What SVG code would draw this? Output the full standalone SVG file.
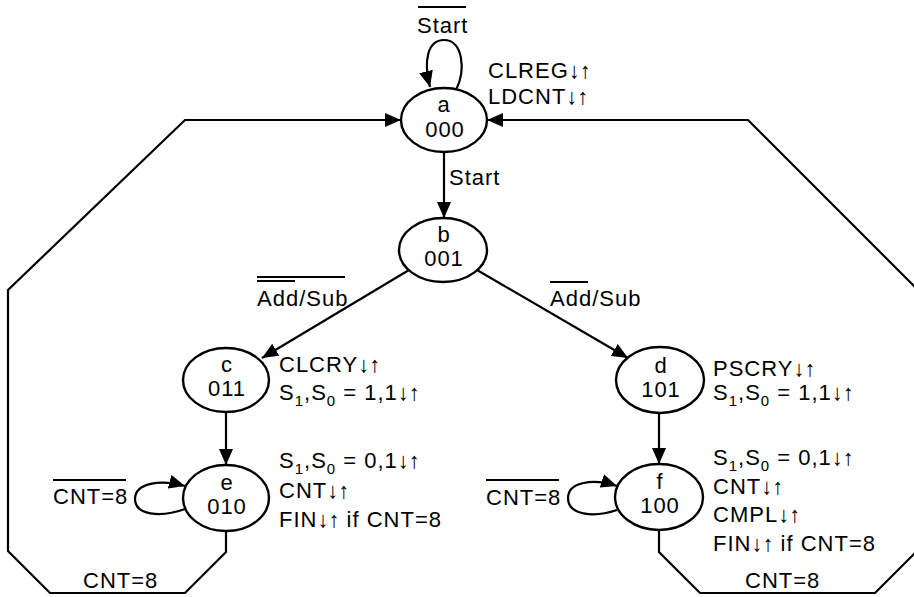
<svg xmlns="http://www.w3.org/2000/svg" width="914" height="597" viewBox="0 0 914 597">
<defs>
<style>
.t{font-family:"Liberation Sans",Arial,Helvetica,sans-serif;font-size:22px;fill:#000;letter-spacing:1px}
.n{text-anchor:middle}
.sub{font-size:15px}
.ar{font-weight:bold;letter-spacing:0}
.st{fill:#fff;stroke:#000;stroke-width:2.4}
.ln{fill:none;stroke:#000;stroke-width:2.2}
.ov{stroke:#000;stroke-width:1.8}
</style>
<marker id="ah" markerUnits="userSpaceOnUse" markerWidth="17" markerHeight="14" refX="16" refY="7" orient="auto">
<path d="M0,0 L16,7 L0,14 z" fill="#000"/>
</marker>
</defs>
<rect width="914" height="597" fill="#fff"/>

<g id="connectors">
<path class="ln" d="M456 90 C466 70 463 40 444 40 C428 40 423 60 430 87" marker-end="url(#ah)"/>
<path class="ln" d="M444 152 L444 218" marker-end="url(#ah)"/>
<path class="ln" d="M409 270 L262 358" marker-end="url(#ah)"/>
<path class="ln" d="M477 270 L628 358" marker-end="url(#ah)"/>
<path class="ln" d="M226 412 L226 465" marker-end="url(#ah)"/>
<path class="ln" d="M659 413 L659 464" marker-end="url(#ah)"/>
<path class="ln" d="M185 509 C160 518 135 515 135 499 C135 483 160 479 185 486" marker-end="url(#ah)"/>
<path class="ln" d="M617 510 C593 518 568 515 568 498 C568 482 593 478 617 486" marker-end="url(#ah)"/>
<path class="ln" d="M226 531 L226 552 L185 593 L50 593 L8 551 L8 290 L185 120 L401 120" marker-end="url(#ah)"/>
<path class="ln" d="M659 530 L659 552 L700 593 L875 593 L925 543 L925 297 L748 120 L487 120" marker-end="url(#ah)"/>
</g>

<g id="node-a">
<ellipse class="st" cx="444" cy="120" rx="43" ry="32"/>
<text class="t n" x="444" y="112">a</text>
<text class="t n" x="445" y="137">000</text>
</g>
<g id="node-b">
<ellipse class="st" cx="443" cy="250" rx="44" ry="32"/>
<text class="t n" x="444" y="242">b</text>
<text class="t n" x="444" y="266">001</text>
</g>
<g id="node-c">
<ellipse class="st" cx="226" cy="380" rx="43" ry="32"/>
<text class="t n" x="227" y="372">c</text>
<text class="t n" x="227" y="396">011</text>
</g>
<g id="node-d">
<ellipse class="st" cx="660" cy="380" rx="44" ry="33"/>
<text class="t n" x="661" y="373">d</text>
<text class="t n" x="661" y="397">101</text>
</g>
<g id="node-e">
<ellipse class="st" cx="226" cy="498" rx="43" ry="33"/>
<text class="t n" x="227" y="490">e</text>
<text class="t n" x="227" y="514">010</text>
</g>
<g id="node-f">
<ellipse class="st" cx="659" cy="497" rx="44" ry="33"/>
<text class="t n" x="660" y="489">f</text>
<text class="t n" x="660" y="513">100</text>
</g>

<g id="labels">
<line class="ov" x1="418" y1="7" x2="466" y2="7"/>
<text class="t" x="417" y="33">Start</text>
<text class="t" x="488" y="78">CLREG<tspan class="ar">↓↑</tspan></text>
<text class="t" x="488" y="104">LDCNT<tspan class="ar">↓↑</tspan></text>
<text class="t" x="449" y="185">Start</text>

<line class="ov" x1="257" y1="277" x2="345" y2="277"/>
<line class="ov" x1="257" y1="281" x2="295" y2="281"/>
<text class="t" x="257" y="306">Add/Sub</text>
<line class="ov" x1="550" y1="282" x2="588" y2="282"/>
<text class="t" x="550" y="306">Add/Sub</text>

<text class="t" x="279" y="372">CLCRY<tspan class="ar">↓↑</tspan></text>
<text class="t" x="279" y="400">S<tspan class="sub" dy="6">1</tspan><tspan dy="-6">,S</tspan><tspan class="sub" dy="6">0</tspan><tspan dy="-6"> = 1,1</tspan><tspan class="ar">↓↑</tspan></text>
<text class="t" x="713" y="376">PSCRY<tspan class="ar">↓↑</tspan></text>
<text class="t" x="713" y="400">S<tspan class="sub" dy="6">1</tspan><tspan dy="-6">,S</tspan><tspan class="sub" dy="6">0</tspan><tspan dy="-6"> = 1,1</tspan><tspan class="ar">↓↑</tspan></text>

<text class="t" x="279" y="468">S<tspan class="sub" dy="6">1</tspan><tspan dy="-6">,S</tspan><tspan class="sub" dy="6">0</tspan><tspan dy="-6"> = 0,1</tspan><tspan class="ar">↓↑</tspan></text>
<text class="t" x="279" y="498">CNT<tspan class="ar">↓↑</tspan></text>
<text class="t" x="279" y="527">FIN<tspan class="ar">↓↑</tspan> if CNT=8</text>

<text class="t" x="713" y="465">S<tspan class="sub" dy="6">1</tspan><tspan dy="-6">,S</tspan><tspan class="sub" dy="6">0</tspan><tspan dy="-6"> = 0,1</tspan><tspan class="ar">↓↑</tspan></text>
<text class="t" x="713" y="494">CNT<tspan class="ar">↓↑</tspan></text>
<text class="t" x="713" y="522">CMPL<tspan class="ar">↓↑</tspan></text>
<text class="t" x="713" y="551">FIN<tspan class="ar">↓↑</tspan> if CNT=8</text>

<line class="ov" x1="53" y1="480" x2="126" y2="480"/>
<text class="t" x="53" y="504">CNT=8</text>
<line class="ov" x1="486" y1="480" x2="559" y2="480"/>
<text class="t" x="486" y="505">CNT=8</text>

<text class="t" x="83" y="588">CNT=8</text>
<text class="t" x="745" y="588">CNT=8</text>
</g>
</svg>
